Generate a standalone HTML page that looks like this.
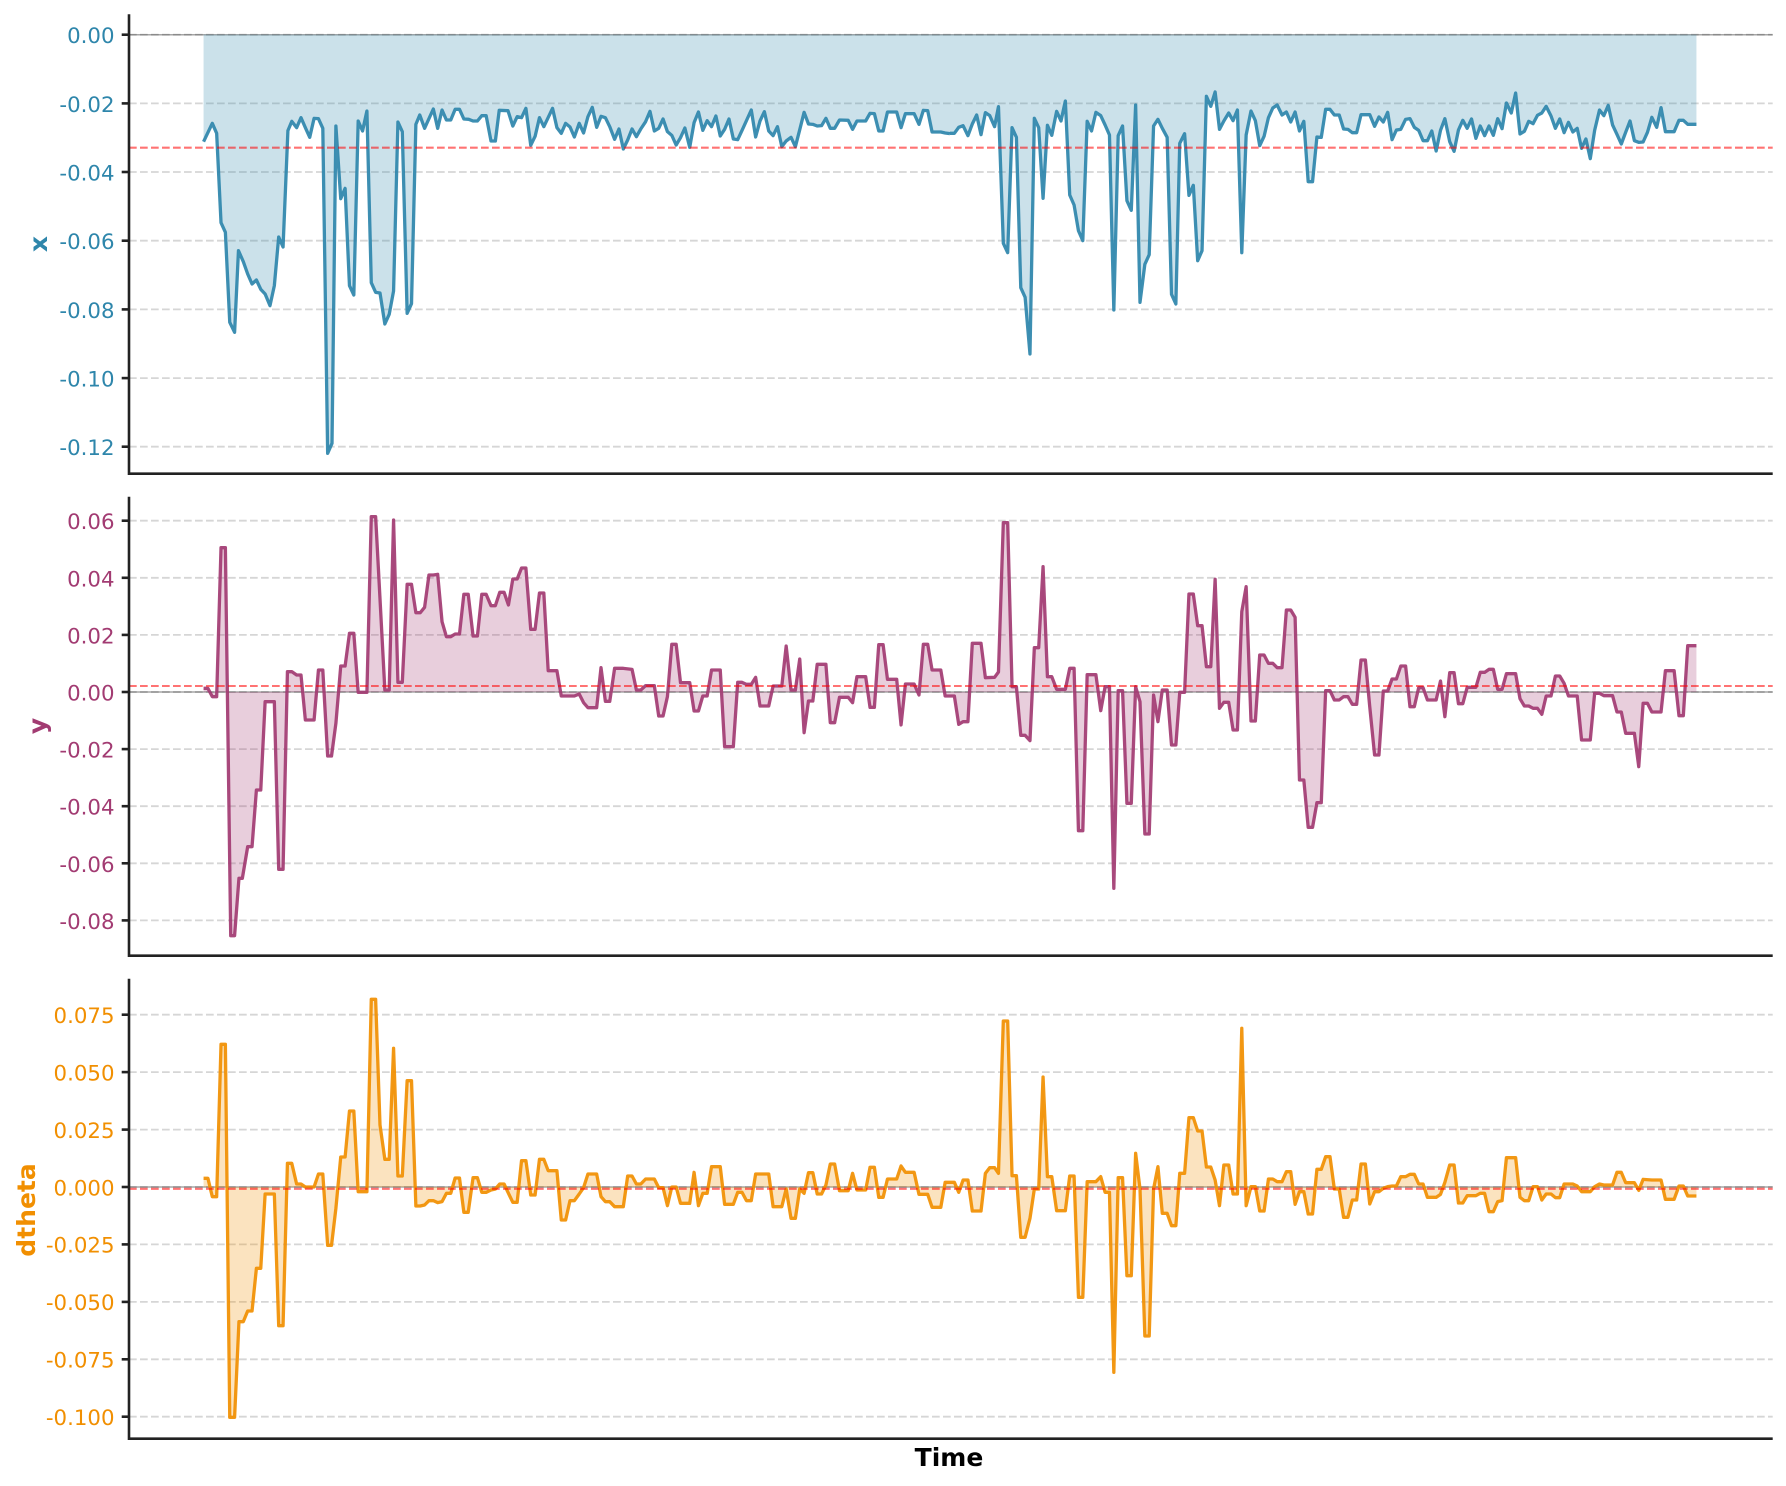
<!DOCTYPE html>
<html>
<head>
<meta charset="utf-8">
<style>
  html, body { margin: 0; padding: 0; background: #ffffff; }
  svg { display: block; }
  .tk { font-family: "DejaVu Sans", "Liberation Sans", sans-serif; font-size: 21.3px; }
  .lab { font-family: "DejaVu Sans", "Liberation Sans", sans-serif; font-size: 25px; font-weight: bold; }
  .grid { stroke: #d6d6d6; stroke-width: 1.8; stroke-dasharray: 7.7 3.3; fill: none; }
  .zero { stroke: #000; stroke-opacity: 0.35; stroke-width: 1.5; }
  .mean { stroke: #ff0000; stroke-opacity: 0.55; stroke-width: 2.1; stroke-dasharray: 7.7 3.3; }
  .spine { stroke: #222; stroke-width: 2.6; fill: none; }
  .ln { fill: none; stroke-width: 3.3; stroke-linejoin: round; stroke-opacity: 0.92; vector-effect: non-scaling-stroke; }
</style>
</head>
<body>
<svg width="1786" height="1486" viewBox="0 0 1786 1486" xmlns="http://www.w3.org/2000/svg">
<rect x="0" y="0" width="1786" height="1486" fill="#ffffff"/>

<!-- ================= PANEL 1 (x) ================= -->
<g>
  <line class="grid" x1="129" x2="1772.7" y1="34.7" y2="34.7"/>
  <line class="grid" x1="129" x2="1772.7" y1="103.4" y2="103.4"/>
  <line class="grid" x1="129" x2="1772.7" y1="172.0" y2="172.0"/>
  <line class="grid" x1="129" x2="1772.7" y1="240.7" y2="240.7"/>
  <line class="grid" x1="129" x2="1772.7" y1="309.4" y2="309.4"/>
  <line class="grid" x1="129" x2="1772.7" y1="378.1" y2="378.1"/>
  <line class="grid" x1="129" x2="1772.7" y1="446.7" y2="446.7"/>
  <line class="zero" x1="129" x2="1772.7" y1="34.7" y2="34.7"/>

  <g transform="translate(190,20) scale(0.484694,0.333333)">
    <polygon fill="#2E86AB" fill-opacity="0.25" points="28,44 28,365 46,310 55,340 64,608 73,637 82,907 92,937 100,692 110,725 119,762 128,792 137,780 146,808 155,822 165,857 174,797 183,651 192,681 202,332 210,304 220,323 229,293 238,323 247,352 256,295 265,296 274,325 284,1300 293,1270 301,318 311,536 320,505 329,797 338,825 347,303 356,333 365,273 374,788 383,817 392,819 402,912 411,883 420,813 429,306 438,335 448,880 457,851 466,313 474,285 484,325 502,267 511,325 520,270 529,300 538,300 547,268 556,268 565,297 575,298 584,303 593,303 602,287 611,287 621,363 630,363 638,271 656,272 666,318 675,290 684,293 693,265 703,376 712,349 721,293 730,320 748,265 757,323 766,340 775,310 784,321 793,351 803,310 812,339 821,290 830,262 839,322 848,289 857,293 866,320 876,358 885,327 894,387 903,360 912,327 921,350 930,327 940,305 949,274 958,333 967,325 976,297 985,335 994,346 1003,375 1012,353 1021,324 1031,382 1040,308 1049,276 1058,331 1067,302 1076,320 1085,288 1094,348 1103,328 1112,297 1121,357 1130,359 1139,331 1158,270 1167,351 1176,303 1185,275 1194,333 1203,347 1212,320 1221,380 1230,363 1240,352 1249,380 1258,329 1267,277 1276,312 1285,313 1294,318 1303,317 1312,295 1321,325 1330,325 1340,300 1358,301 1367,328 1376,303 1394,303 1403,280 1412,281 1421,333 1430,333 1439,276 1458,276 1467,323 1476,281 1494,281 1504,313 1513,271 1522,272 1531,336 1540,336 1549,336 1558,339 1568,341 1568,44"/>
    <polyline class="ln" stroke="#2E86AB" points="28,365 46,310 55,340 64,608 73,637 82,907 92,937 100,692 110,725 119,762 128,792 137,780 146,808 155,822 165,857 174,797 183,651 192,681 202,332 210,304 220,323 229,293 238,323 247,352 256,295 265,296 274,325 284,1300 293,1270 301,318 311,536 320,505 329,797 338,825 347,303 356,333 365,273 374,788 383,817 392,819 402,912 411,883 420,813 429,306 438,335 448,880 457,851 466,313 474,285 484,325 502,267 511,325 520,270 529,300 538,300 547,268 556,268 565,297 575,298 584,303 593,303 602,287 611,287 621,363 630,363 638,271 656,272 666,318 675,290 684,293 693,265 703,376 712,349 721,293 730,320 748,265 757,323 766,340 775,310 784,321 793,351 803,310 812,339 821,290 830,262 839,322 848,289 857,293 866,320 876,358 885,327 894,387 903,360 912,327 921,350 930,327 940,305 949,274 958,333 967,325 976,297 985,335 994,346 1003,375 1012,353 1021,324 1031,382 1040,308 1049,276 1058,331 1067,302 1076,320 1085,288 1094,348 1103,328 1112,297 1121,357 1130,359 1139,331 1158,270 1167,351 1176,303 1185,275 1194,333 1203,347 1212,320 1221,380 1230,363 1240,352 1249,380 1258,329 1267,277 1276,312 1285,313 1294,318 1303,317 1312,295 1321,325 1330,325 1340,300 1358,301 1367,328 1376,303 1394,303 1403,280 1412,281 1421,333 1430,333 1439,276 1458,276 1467,323 1476,281 1494,281 1504,313 1513,271 1522,272 1531,336 1540,336 1549,336 1558,339 1568,341"/>
  </g>
  <g transform="translate(950,20) scale(0.484694,0.333333)">
    <polygon fill="#2E86AB" fill-opacity="0.25" points="0,44 0,340 9,340 18,322 27,317 37,347 46,312 55,285 64,344 73,278 82,287 92,320 100,260 110,670 119,698 128,323 137,352 146,803 155,832 165,1002 174,295 183,323 192,535 201,316 210,346 220,274 229,303 238,243 247,525 256,555 265,632 274,662 283,304 292,333 301,277 311,287 320,315 329,345 338,870 347,347 356,318 365,542 374,571 383,255 392,847 402,733 411,704 420,318 429,298 438,325 448,352 457,823 466,852 474,370 484,341 493,526 502,496 511,722 520,692 529,229 538,259 547,216 556,328 565,303 575,279 584,302 593,270 602,698 611,345 621,273 630,302 639,377 648,349 657,293 666,264 675,255 685,285 694,276 703,306 712,276 721,333 730,304 739,485 748,485 757,351 766,352 775,268 784,268 793,285 803,285 812,327 821,328 830,338 839,338 848,284 866,284 876,319 885,291 894,306 903,277 912,359 921,330 930,328 940,298 949,296 958,322 967,331 976,362 985,362 994,333 1003,393 1012,331 1021,296 1031,365 1040,394 1049,330 1058,301 1067,325 1076,297 1085,355 1094,318 1103,347 1112,318 1121,346 1130,296 1139,326 1148,249 1158,279 1167,219 1176,342 1185,334 1194,304 1203,311 1212,286 1221,279 1230,259 1240,288 1249,325 1258,297 1267,338 1276,307 1285,336 1294,325 1303,385 1312,357 1321,416 1330,331 1340,270 1349,287 1358,256 1367,315 1376,343 1385,372 1394,337 1403,303 1412,362 1421,367 1430,366 1439,337 1448,292 1458,322 1467,263 1476,335 1494,335 1504,301 1513,301 1522,313 1540,313 1540,44"/>
    <polyline class="ln" stroke="#2E86AB" points="0,340 9,340 18,322 27,317 37,347 46,312 55,285 64,344 73,278 82,287 92,320 100,260 110,670 119,698 128,323 137,352 146,803 155,832 165,1002 174,295 183,323 192,535 201,316 210,346 220,274 229,303 238,243 247,525 256,555 265,632 274,662 283,304 292,333 301,277 311,287 320,315 329,345 338,870 347,347 356,318 365,542 374,571 383,255 392,847 402,733 411,704 420,318 429,298 438,325 448,352 457,823 466,852 474,370 484,341 493,526 502,496 511,722 520,692 529,229 538,259 547,216 556,328 565,303 575,279 584,302 593,270 602,698 611,345 621,273 630,302 639,377 648,349 657,293 666,264 675,255 685,285 694,276 703,306 712,276 721,333 730,304 739,485 748,485 757,351 766,352 775,268 784,268 793,285 803,285 812,327 821,328 830,338 839,338 848,284 866,284 876,319 885,291 894,306 903,277 912,359 921,330 930,328 940,298 949,296 958,322 967,331 976,362 985,362 994,333 1003,393 1012,331 1021,296 1031,365 1040,394 1049,330 1058,301 1067,325 1076,297 1085,355 1094,318 1103,347 1112,318 1121,346 1130,296 1139,326 1148,249 1158,279 1167,219 1176,342 1185,334 1194,304 1203,311 1212,286 1221,279 1230,259 1240,288 1249,325 1258,297 1267,338 1276,307 1285,336 1294,325 1303,385 1312,357 1321,416 1330,331 1340,270 1349,287 1358,256 1367,315 1376,343 1385,372 1394,337 1403,303 1412,362 1421,367 1430,366 1439,337 1448,292 1458,322 1467,263 1476,335 1494,335 1504,301 1513,301 1522,313 1540,313"/>
  </g>
  <line class="mean" x1="129" x2="1772.7" y1="147.7" y2="147.7"/>

  <path class="spine" d="M129,14.3 L129,473.7 L1772.7,473.7"/>
  <g stroke="#222" stroke-width="2.6">
    <line x1="121.7" x2="129" y1="34.7" y2="34.7"/>
    <line x1="121.7" x2="129" y1="103.4" y2="103.4"/>
    <line x1="121.7" x2="129" y1="172.0" y2="172.0"/>
    <line x1="121.7" x2="129" y1="240.7" y2="240.7"/>
    <line x1="121.7" x2="129" y1="309.4" y2="309.4"/>
    <line x1="121.7" x2="129" y1="378.1" y2="378.1"/>
    <line x1="121.7" x2="129" y1="446.7" y2="446.7"/>
  </g>
  <g class="tk" fill="#2E86AB" text-anchor="end">
    <text x="114.5" y="43.2">0.00</text>
    <text x="114.5" y="111.9">-0.02</text>
    <text x="114.5" y="180.5">-0.04</text>
    <text x="114.5" y="249.2">-0.06</text>
    <text x="114.5" y="317.9">-0.08</text>
    <text x="114.5" y="386.6">-0.10</text>
    <text x="114.5" y="455.2">-0.12</text>
  </g>
  <text class="lab" fill="#2E86AB" text-anchor="middle" transform="translate(47,244) rotate(-90)">x</text>
</g>

<!-- ================= PANEL 2 (y) ================= -->
<g>
  <line class="grid" x1="129" x2="1772.7" y1="520.7" y2="520.7"/>
  <line class="grid" x1="129" x2="1772.7" y1="577.8" y2="577.8"/>
  <line class="grid" x1="129" x2="1772.7" y1="634.9" y2="634.9"/>
  <line class="grid" x1="129" x2="1772.7" y1="692.0" y2="692.0"/>
  <line class="grid" x1="129" x2="1772.7" y1="749.1" y2="749.1"/>
  <line class="grid" x1="129" x2="1772.7" y1="806.2" y2="806.2"/>
  <line class="grid" x1="129" x2="1772.7" y1="863.3" y2="863.3"/>
  <line class="grid" x1="129" x2="1772.7" y1="920.4" y2="920.4"/>
  <line class="zero" x1="129" x2="1772.7" y1="692.0" y2="692.0"/>

  <g transform="translate(190,500) scale(0.484694,0.333333)">
    <polygon fill="#A23B72" fill-opacity="0.25" points="28,576 28,565 37,565 46,590 55,590 64,143 73,143 84,1307 92,1307 101,1135 108,1135 119,1040 128,1040 137,870 146,870 155,605 174,605 183,1108 192,1108 201,515 210,515 220,525 229,525 238,660 256,660 265,510 274,510 284,768 292,768 301,670 311,498 320,498 329,400 338,400 347,577 365,577 374,50 383,50 402,570 411,570 420,60 429,547 438,547 448,253 457,253 466,338 475,338 484,322 493,225 502,225 511,223 520,365 529,410 538,410 547,402 556,402 565,283 574,283 584,408 593,408 602,283 611,283 621,317 630,317 639,277 648,277 657,315 666,237 675,237 684,204 693,204 703,388 712,388 721,279 730,279 739,512 757,512 766,588 793,588 803,582 812,608 821,623 839,623 848,503 857,604 866,604 876,505 894,505 912,508 921,570 930,570 940,557 958,557 967,648 976,648 985,590 994,433 1003,433 1012,548 1031,548 1040,633 1049,633 1058,588 1067,588 1076,510 1094,510 1103,740 1121,740 1130,547 1139,547 1148,553 1158,553 1167,532 1176,618 1194,618 1203,558 1221,558 1230,438 1240,570 1249,570 1258,477 1267,698 1276,603 1285,603 1294,493 1312,493 1321,668 1330,668 1340,592 1358,592 1367,608 1376,530 1394,530 1403,622 1412,622 1421,434 1430,434 1439,538 1458,538 1467,675 1476,552 1494,552 1504,585 1513,433 1522,433 1531,510 1549,510 1558,588 1568,588 1568,576"/>
    <polyline class="ln" stroke="#A23B72" points="28,565 37,565 46,590 55,590 64,143 73,143 84,1307 92,1307 101,1135 108,1135 119,1040 128,1040 137,870 146,870 155,605 174,605 183,1108 192,1108 201,515 210,515 220,525 229,525 238,660 256,660 265,510 274,510 284,768 292,768 301,670 311,498 320,498 329,400 338,400 347,577 365,577 374,50 383,50 402,570 411,570 420,60 429,547 438,547 448,253 457,253 466,338 475,338 484,322 493,225 502,225 511,223 520,365 529,410 538,410 547,402 556,402 565,283 574,283 584,408 593,408 602,283 611,283 621,317 630,317 639,277 648,277 657,315 666,237 675,237 684,204 693,204 703,388 712,388 721,279 730,279 739,512 757,512 766,588 793,588 803,582 812,608 821,623 839,623 848,503 857,604 866,604 876,505 894,505 912,508 921,570 930,570 940,557 958,557 967,648 976,648 985,590 994,433 1003,433 1012,548 1031,548 1040,633 1049,633 1058,588 1067,588 1076,510 1094,510 1103,740 1121,740 1130,547 1139,547 1148,553 1158,553 1167,532 1176,618 1194,618 1203,558 1221,558 1230,438 1240,570 1249,570 1258,477 1267,698 1276,603 1285,603 1294,493 1312,493 1321,668 1330,668 1340,592 1358,592 1367,608 1376,530 1394,530 1403,622 1412,622 1421,434 1430,434 1439,538 1458,538 1467,675 1476,552 1494,552 1504,585 1513,433 1522,433 1531,510 1549,510 1558,588 1568,588"/>
  </g>
  <g transform="translate(950,500) scale(0.484694,0.333333)">
    <polygon fill="#A23B72" fill-opacity="0.25" points="0,576 0,588 9,588 18,673 27,665 37,665 46,430 64,430 73,533 92,532 100,516 110,68 119,68 128,560 137,560 146,706 155,706 165,722 174,443 183,443 192,200 201,530 210,530 220,568 238,568 247,505 256,505 265,992 274,992 283,524 301,524 311,632 320,560 329,560 338,1165 347,572 356,572 365,910 374,910 383,560 392,605 402,1002 411,1002 420,585 429,665 438,570 448,570 457,735 466,735 474,577 484,577 493,282 502,282 511,377 520,377 529,500 538,500 547,238 556,625 565,607 575,607 584,690 593,690 602,335 611,260 621,663 630,663 639,465 648,465 657,490 666,490 675,503 685,503 694,330 703,330 712,352 721,840 730,840 739,982 748,982 757,908 766,908 775,572 784,572 793,600 803,600 812,590 821,590 830,613 839,613 848,480 857,480 866,620 876,765 885,765 894,573 903,573 912,537 921,537 930,498 940,498 949,620 958,620 967,563 976,563 985,600 1003,600 1012,543 1021,650 1031,518 1040,518 1049,611 1058,611 1067,562 1085,562 1094,517 1103,517 1112,508 1121,508 1130,568 1139,568 1148,521 1167,521 1176,596 1185,618 1194,618 1203,625 1212,625 1221,643 1230,588 1240,588 1249,528 1258,528 1267,550 1276,588 1294,588 1303,720 1321,720 1330,580 1340,580 1349,587 1367,587 1376,636 1385,636 1394,700 1412,700 1421,800 1430,610 1439,610 1448,636 1467,636 1476,512 1494,512 1504,647 1513,647 1522,437 1540,437 1540,576"/>
    <polyline class="ln" stroke="#A23B72" points="0,588 9,588 18,673 27,665 37,665 46,430 64,430 73,533 92,532 100,516 110,68 119,68 128,560 137,560 146,706 155,706 165,722 174,443 183,443 192,200 201,530 210,530 220,568 238,568 247,505 256,505 265,992 274,992 283,524 301,524 311,632 320,560 329,560 338,1165 347,572 356,572 365,910 374,910 383,560 392,605 402,1002 411,1002 420,585 429,665 438,570 448,570 457,735 466,735 474,577 484,577 493,282 502,282 511,377 520,377 529,500 538,500 547,238 556,625 565,607 575,607 584,690 593,690 602,335 611,260 621,663 630,663 639,465 648,465 657,490 666,490 675,503 685,503 694,330 703,330 712,352 721,840 730,840 739,982 748,982 757,908 766,908 775,572 784,572 793,600 803,600 812,590 821,590 830,613 839,613 848,480 857,480 866,620 876,765 885,765 894,573 903,573 912,537 921,537 930,498 940,498 949,620 958,620 967,563 976,563 985,600 1003,600 1012,543 1021,650 1031,518 1040,518 1049,611 1058,611 1067,562 1085,562 1094,517 1103,517 1112,508 1121,508 1130,568 1139,568 1148,521 1167,521 1176,596 1185,618 1194,618 1203,625 1212,625 1221,643 1230,588 1240,588 1249,528 1258,528 1267,550 1276,588 1294,588 1303,720 1321,720 1330,580 1340,580 1349,587 1367,587 1376,636 1385,636 1394,700 1412,700 1421,800 1430,610 1439,610 1448,636 1467,636 1476,512 1494,512 1504,647 1513,647 1522,437 1540,437"/>
  </g>
  <line class="mean" x1="129" x2="1772.7" y1="686" y2="686"/>

  <path class="spine" d="M129,496.7 L129,955.7 L1772.7,955.7"/>
  <g stroke="#222" stroke-width="2.6">
    <line x1="121.7" x2="129" y1="520.7" y2="520.7"/>
    <line x1="121.7" x2="129" y1="577.8" y2="577.8"/>
    <line x1="121.7" x2="129" y1="634.9" y2="634.9"/>
    <line x1="121.7" x2="129" y1="692.0" y2="692.0"/>
    <line x1="121.7" x2="129" y1="749.1" y2="749.1"/>
    <line x1="121.7" x2="129" y1="806.2" y2="806.2"/>
    <line x1="121.7" x2="129" y1="863.3" y2="863.3"/>
    <line x1="121.7" x2="129" y1="920.4" y2="920.4"/>
  </g>
  <g class="tk" fill="#A23B72" text-anchor="end">
    <text x="114.5" y="529.2">0.06</text>
    <text x="114.5" y="586.3">0.04</text>
    <text x="114.5" y="643.4">0.02</text>
    <text x="114.5" y="700.5">0.00</text>
    <text x="114.5" y="757.6">-0.02</text>
    <text x="114.5" y="814.7">-0.04</text>
    <text x="114.5" y="871.8">-0.06</text>
    <text x="114.5" y="928.9">-0.08</text>
  </g>
  <text class="lab" fill="#A23B72" text-anchor="middle" transform="translate(46.2,726) rotate(-90)">y</text>
</g>

<!-- ================= PANEL 3 (dtheta) ================= -->
<g>
  <line class="grid" x1="129" x2="1772.7" y1="1014.7" y2="1014.7"/>
  <line class="grid" x1="129" x2="1772.7" y1="1072.1" y2="1072.1"/>
  <line class="grid" x1="129" x2="1772.7" y1="1129.6" y2="1129.6"/>
  <line class="grid" x1="129" x2="1772.7" y1="1187.0" y2="1187.0"/>
  <line class="grid" x1="129" x2="1772.7" y1="1244.4" y2="1244.4"/>
  <line class="grid" x1="129" x2="1772.7" y1="1301.9" y2="1301.9"/>
  <line class="grid" x1="129" x2="1772.7" y1="1359.3" y2="1359.3"/>
  <line class="grid" x1="129" x2="1772.7" y1="1416.7" y2="1416.7"/>
  <line class="zero" x1="129" x2="1772.7" y1="1187.0" y2="1187.0"/>

  <g transform="translate(190,985) scale(0.484694,0.333333)">
    <polygon fill="#F18F01" fill-opacity="0.25" points="28,606 28,580 37,580 46,635 55,635 64,178 73,178 82,1297 92,1297 101,1010 110,1010 119,978 128,978 137,850 146,850 155,627 174,627 183,1022 192,1022 201,535 210,535 220,597 229,597 238,606 256,606 265,567 274,567 284,781 292,781 301,670 311,516 320,516 329,378 338,378 347,620 365,620 374,43 383,43 392,420 402,523 411,523 420,190 429,573 438,573 448,287 457,287 466,663 475,663 484,660 493,647 502,647 511,653 520,650 529,625 538,625 547,579 556,579 565,682 574,682 584,578 593,578 602,622 611,622 621,615 630,612 639,597 648,597 657,625 666,652 675,652 684,527 693,527 703,630 712,630 721,523 730,523 739,557 757,557 766,705 775,705 784,647 793,647 803,627 812,608 821,567 839,567 848,635 857,650 866,650 876,665 894,665 903,573 912,573 921,597 930,597 940,582 958,582 967,608 976,608 985,662 994,606 1003,606 1012,655 1031,655 1040,562 1049,662 1058,625 1067,625 1076,545 1094,545 1103,658 1121,658 1130,622 1139,622 1148,647 1158,647 1167,567 1194,567 1203,665 1221,665 1230,612 1240,700 1249,700 1258,612 1267,625 1276,563 1285,563 1294,627 1303,627 1312,600 1321,537 1330,537 1340,617 1358,617 1367,565 1376,615 1394,615 1403,547 1412,547 1421,637 1430,637 1439,582 1458,582 1467,543 1476,562 1494,562 1504,628 1522,628 1531,667 1549,667 1558,592 1568,592 1568,606"/>
    <polyline class="ln" stroke="#F18F01" points="28,580 37,580 46,635 55,635 64,178 73,178 82,1297 92,1297 101,1010 110,1010 119,978 128,978 137,850 146,850 155,627 174,627 183,1022 192,1022 201,535 210,535 220,597 229,597 238,606 256,606 265,567 274,567 284,781 292,781 301,670 311,516 320,516 329,378 338,378 347,620 365,620 374,43 383,43 392,420 402,523 411,523 420,190 429,573 438,573 448,287 457,287 466,663 475,663 484,660 493,647 502,647 511,653 520,650 529,625 538,625 547,579 556,579 565,682 574,682 584,578 593,578 602,622 611,622 621,615 630,612 639,597 648,597 657,625 666,652 675,652 684,527 693,527 703,630 712,630 721,523 730,523 739,557 757,557 766,705 775,705 784,647 793,647 803,627 812,608 821,567 839,567 848,635 857,650 866,650 876,665 894,665 903,573 912,573 921,597 930,597 940,582 958,582 967,608 976,608 985,662 994,606 1003,606 1012,655 1031,655 1040,562 1049,662 1058,625 1067,625 1076,545 1094,545 1103,658 1121,658 1130,622 1139,622 1148,647 1158,647 1167,567 1194,567 1203,665 1221,665 1230,612 1240,700 1249,700 1258,612 1267,625 1276,563 1285,563 1294,627 1303,627 1312,600 1321,537 1330,537 1340,617 1358,617 1367,565 1376,615 1394,615 1403,547 1412,547 1421,637 1430,637 1439,582 1458,582 1467,543 1476,562 1494,562 1504,628 1522,628 1531,667 1549,667 1558,592 1568,592"/>
  </g>
  <g transform="translate(950,985) scale(0.484694,0.333333)">
    <polygon fill="#F18F01" fill-opacity="0.25" points="0,606 0,592 9,592 18,622 27,585 37,585 46,678 64,678 73,565 82,548 92,548 100,565 110,108 119,108 128,572 137,572 146,757 155,757 165,700 174,612 183,612 192,276 201,575 210,575 220,677 238,677 247,573 256,573 265,937 274,937 283,590 301,590 311,575 320,622 329,622 338,1162 347,578 356,578 365,872 374,872 383,505 392,612 402,1053 411,1053 420,612 429,545 438,685 448,685 457,722 466,722 474,565 484,565 493,398 502,398 511,438 520,438 529,546 538,546 547,585 556,662 565,540 575,540 584,627 593,627 602,130 611,662 621,605 630,605 639,678 648,678 657,582 666,582 675,590 685,590 694,560 703,560 712,658 721,620 730,620 739,687 748,687 757,553 766,553 775,515 784,515 793,612 803,612 812,697 821,697 830,645 839,645 848,537 857,537 866,657 876,620 885,620 894,610 903,605 912,603 921,603 930,575 940,575 949,568 958,568 967,597 976,597 985,637 1003,637 1012,628 1021,592 1031,540 1040,540 1049,654 1058,654 1067,632 1085,632 1094,625 1103,625 1112,680 1121,680 1130,650 1139,647 1148,518 1167,518 1176,637 1185,647 1194,647 1203,605 1212,605 1221,645 1230,627 1240,627 1249,638 1258,638 1267,597 1285,597 1294,603 1303,620 1321,620 1330,605 1340,597 1349,600 1367,600 1376,562 1385,562 1394,593 1412,593 1421,616 1430,583 1448,585 1467,585 1476,643 1494,643 1504,603 1513,603 1522,633 1540,633 1540,606"/>
    <polyline class="ln" stroke="#F18F01" points="0,592 9,592 18,622 27,585 37,585 46,678 64,678 73,565 82,548 92,548 100,565 110,108 119,108 128,572 137,572 146,757 155,757 165,700 174,612 183,612 192,276 201,575 210,575 220,677 238,677 247,573 256,573 265,937 274,937 283,590 301,590 311,575 320,622 329,622 338,1162 347,578 356,578 365,872 374,872 383,505 392,612 402,1053 411,1053 420,612 429,545 438,685 448,685 457,722 466,722 474,565 484,565 493,398 502,398 511,438 520,438 529,546 538,546 547,585 556,662 565,540 575,540 584,627 593,627 602,130 611,662 621,605 630,605 639,678 648,678 657,582 666,582 675,590 685,590 694,560 703,560 712,658 721,620 730,620 739,687 748,687 757,553 766,553 775,515 784,515 793,612 803,612 812,697 821,697 830,645 839,645 848,537 857,537 866,657 876,620 885,620 894,610 903,605 912,603 921,603 930,575 940,575 949,568 958,568 967,597 976,597 985,637 1003,637 1012,628 1021,592 1031,540 1040,540 1049,654 1058,654 1067,632 1085,632 1094,625 1103,625 1112,680 1121,680 1130,650 1139,647 1148,518 1167,518 1176,637 1185,647 1194,647 1203,605 1212,605 1221,645 1230,627 1240,627 1249,638 1258,638 1267,597 1285,597 1294,603 1303,620 1321,620 1330,605 1340,597 1349,600 1367,600 1376,562 1385,562 1394,593 1412,593 1421,616 1430,583 1448,585 1467,585 1476,643 1494,643 1504,603 1513,603 1522,633 1540,633"/>
  </g>
  <line class="mean" x1="129" x2="1772.7" y1="1188.8" y2="1188.8"/>

  <path class="spine" d="M129,978.7 L129,1438.7 L1772.7,1438.7"/>
  <g stroke="#222" stroke-width="2.6">
    <line x1="121.7" x2="129" y1="1014.7" y2="1014.7"/>
    <line x1="121.7" x2="129" y1="1072.1" y2="1072.1"/>
    <line x1="121.7" x2="129" y1="1129.6" y2="1129.6"/>
    <line x1="121.7" x2="129" y1="1187.0" y2="1187.0"/>
    <line x1="121.7" x2="129" y1="1244.4" y2="1244.4"/>
    <line x1="121.7" x2="129" y1="1301.9" y2="1301.9"/>
    <line x1="121.7" x2="129" y1="1359.3" y2="1359.3"/>
    <line x1="121.7" x2="129" y1="1416.7" y2="1416.7"/>
  </g>
  <g class="tk" fill="#F18F01" text-anchor="end">
    <text x="114.5" y="1023.0">0.075</text>
    <text x="114.5" y="1080.4">0.050</text>
    <text x="114.5" y="1137.9">0.025</text>
    <text x="114.5" y="1195.3">0.000</text>
    <text x="114.5" y="1252.7">-0.025</text>
    <text x="114.5" y="1310.2">-0.050</text>
    <text x="114.5" y="1367.6">-0.075</text>
    <text x="114.5" y="1425.0">-0.100</text>
  </g>
  <text class="lab" fill="#F18F01" text-anchor="middle" transform="translate(35,1210) rotate(-90)">dtheta</text>
</g>

<text class="lab" fill="#000" text-anchor="middle" x="949" y="1466">Time</text>
</svg>
</body>
</html>
